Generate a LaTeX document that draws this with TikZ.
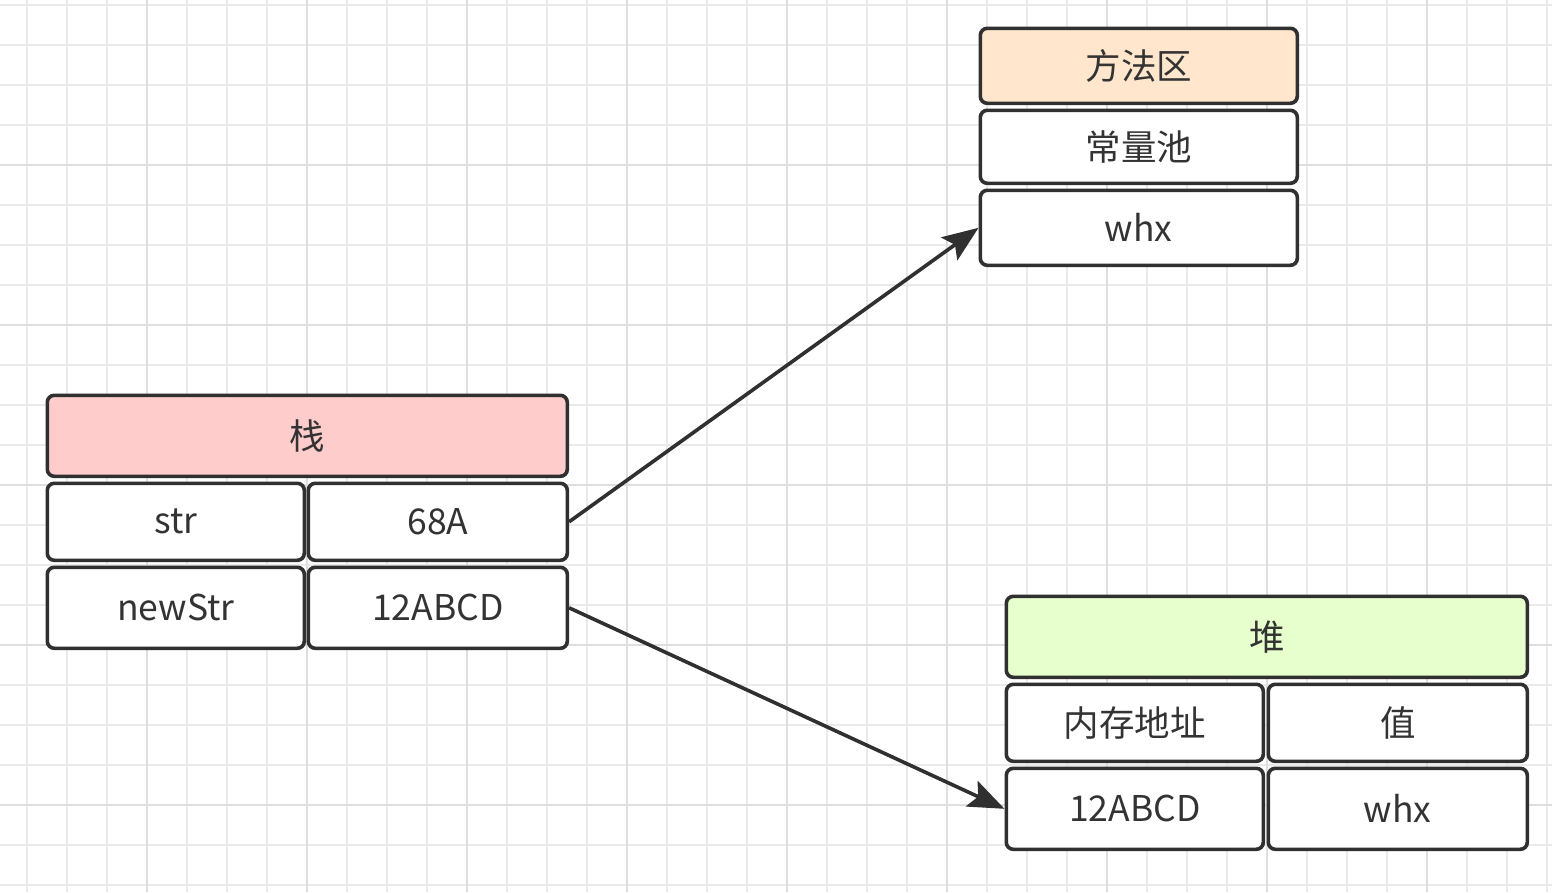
\documentclass[tikz,border=0pt]{standalone}
\usepackage{fontspec}
\newfontfamily\cjk{Noto Sans CJK SC}
\usetikzlibrary{arrows.meta}
\definecolor{linec}{HTML}{303030}
\definecolor{textc}{HTML}{333333}
\definecolor{gridc}{HTML}{EAEAEA}
\definecolor{gridm}{HTML}{DEDEDE}
\definecolor{pinkf}{HTML}{FFCCCC}
\definecolor{orangef}{HTML}{FFE6CC}
\definecolor{greenf}{HTML}{E6FFCC}
\tikzset{
  cell/.style={draw=linec, line width=3.6pt, rounded corners=7pt, fill=white, text=textc,
    inner sep=0pt, anchor=north west, font=\cjk\fontsize{35.5}{36}\selectfont},
  arr/.style={draw=linec, line width=3.6pt, -{Stealth[length=36pt,width=28pt,inset=7pt]}}
}
\begin{document}
\begin{tikzpicture}[x=1pt,y=-1pt]
\useasboundingbox (0,0) rectangle (1552,892);
\fill[white] (0,0) rectangle (1552,892);
% grid
\foreach \x in {27,67,...,1552} \draw[gridc, line width=1.5pt] (\x,0) -- (\x,892);
\foreach \y in {5,45,...,892} \draw[gridc, line width=1.5pt] (0,\y) -- (1552,\y);
\foreach \x in {147,307,...,1552} \draw[gridm, line width=1.5pt] (\x,0) -- (\x,892);
\foreach \y in {165,325,...,892} \draw[gridm, line width=1.5pt] (0,\y) -- (1552,\y);
% stack
\node[cell, fill=pinkf, minimum width=520pt, minimum height=81pt] (sh) at (45.5,393.5) {栈};
\node[cell, minimum width=257pt, minimum height=77pt] (sstr) at (45.5,481.5) {str};
\node[cell, minimum width=259pt, minimum height=77pt] (s68) at (306.5,481.5) {68A};
\node[cell, minimum width=257pt, minimum height=81pt] (snew) at (45.5,565.5) {newStr};
\node[cell, minimum width=259pt, minimum height=81pt] (s12) at (306.5,565.5) {12ABCD};
% method area
\node[cell, fill=orangef, minimum width=317pt, minimum height=75pt] (mh) at (978.5,26.5) {方法区};
\node[cell, minimum width=317pt, minimum height=73pt] (mpool) at (978.5,108.5) {常量池};
\node[cell, minimum width=317pt, minimum height=75pt] (mwhx) at (978.5,188.5) {whx};
% heap
\node[cell, fill=greenf, minimum width=521pt, minimum height=81pt] (hh) at (1004.5,594.5) {堆};
\node[cell, minimum width=257pt, minimum height=77pt] (haddr) at (1004.5,682.5) {内存地址};
\node[cell, minimum width=259pt, minimum height=77pt] (hval) at (1266.5,682.5) {值};
\node[cell, minimum width=257pt, minimum height=81pt] (h12) at (1004.5,766.5) {12ABCD};
\node[cell, minimum width=259pt, minimum height=81pt] (hwhx) at (1266.5,766.5) {whx};
% arrows
\draw[arr] (s68.east) -- (mwhx.west);
\draw[arr] (s12.east) -- (h12.west);
\end{tikzpicture}
\end{document}
